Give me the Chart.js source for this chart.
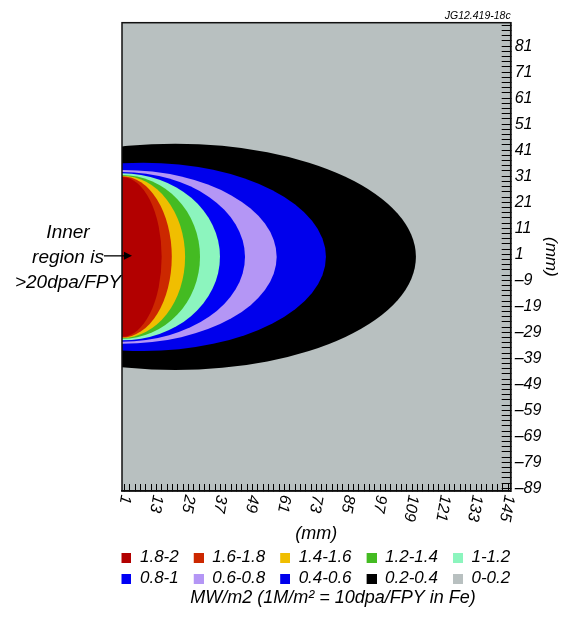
<!DOCTYPE html>
<html>
<head>
<meta charset="utf-8">
<script src="https://cdn.jsdelivr.net/npm/chart.js@4.4.1/dist/chart.umd.min.js"></script>
<style>
  html, body { margin: 0; padding: 0; background: #ffffff; }
  #wrap { width: 565px; height: 617px; position: relative; }
</style>
</head>
<body>
<div id="wrap"><canvas id="c" width="565" height="617"></canvas></div>
<script>
// ---------- data ----------
const BANDS = ['1.8-2', '1.6-1.8', '1.4-1.6', '1.2-1.4', '1-1.2', '0.8-1', '0.6-0.8', '0.4-0.6', '0.2-0.4', '0-0.2'];
const COLORS = ['#b20000', '#cc2800', '#f0be00', '#44bb22', '#8cf5be', '#0000f5', '#b496f5', '#0000ec', '#000000', '#b8c0c0'];
// outer boundary of each band (mm): centre x, right-most x, half height
const CONTOUR_CX     = [0, 0, 0, 0, 0, 0, 0, 8, 20];
const CONTOUR_XMAX   = [14.9, 18.7, 23.7, 29.3, 36.8, 46.2, 58.1, 76.6, 110.4];
const CONTOUR_HALF_H = [30.7, 31.0, 31.2, 31.5, 32.1, 32.6, 33.4, 36.2, 43.5];
const CENTER_Y = 0;
const X_RANGE = [0, 146];
const Y_RANGE = [-90, 90];
const X_TICK_LABELS = [1, 13, 25, 37, 49, 61, 73, 85, 97, 109, 121, 133, 145];
const Y_TICK_LABELS = [81, 71, 61, 51, 41, 31, 21, 11, 1, -9, -19, -29, -39, -49, -59, -69, -79, -89];
const MINOR_STEP = 2;
const ANNOT_LINES = ['Inner', 'region is', '>20dpa/FPY'];
const TOP_NOTE = 'JG12.419-18c';
const BOTTOM_NOTE = 'MW/m2 (1M/m\u00B2 = 10dpa/FPY in Fe)';

const FONT = "'Liberation Sans', Arial, sans-serif";
Chart.defaults.font.family = FONT;
Chart.defaults.font.style = 'italic';
Chart.defaults.color = '#000';

const SWATCH_W = 21;       // legend symbol slot (square sits at its right end)
const LEGEND_WRAP = 450;   // width used for wrapping legend rows (5 per row)

function minorTicks(lo, hi) {
  const out = [];
  for (let v = lo + 1; v <= hi; v += MINOR_STEP) out.push({ value: v });
  return out;
}
const fmt = v => (v < 0 ? '\u2013' + Math.abs(v) : String(v));

function swatch(color) {
  const c = document.createElement('canvas');
  c.width = SWATCH_W;
  c.height = 10;
  const g = c.getContext('2d');
  g.fillStyle = color;
  g.fillRect(SWATCH_W - 10, 0, 10, 10);
  return c;
}
const SWATCHES = COLORS.map(swatch);

const contourPlugin = {
  id: 'contours',
  beforeUpdate(chart) {
    const lg = chart.legend;
    if (lg && !lg.__wrapPatched) {
      const orig = lg.update;
      lg.update = function (maxWidth, maxHeight, margins) {
        return orig.call(this, Math.max(maxWidth, LEGEND_WRAP), maxHeight, margins);
      };
      lg.__wrapPatched = true;
    }
  },
  afterUpdate(chart) {
    const lg = chart.legend;
    if (lg) {
      lg.left -= 36;
      lg.right += 24;
      lg.width = lg.right - lg.left;
    }
    const tb = chart.titleBlock;
    if (tb) {
      tb.left -= 21;
      tb.width = tb.right - tb.left;
    }
  },
  beforeDraw(chart) {
    const { ctx, chartArea: a, scales: { y } } = chart;
    ctx.save();
    ctx.font = 'italic 19px ' + FONT;
    ctx.fillStyle = '#000';
    ctx.textAlign = 'center';
    ctx.textBaseline = 'middle';
    const yc = y.getPixelForValue(CENTER_Y);
    ANNOT_LINES.forEach((t, i) => ctx.fillText(t, 68, yc - 24 + i * 25));
    ctx.fillStyle = COLORS[COLORS.length - 1];
    ctx.fillRect(a.left, a.top, a.right - a.left, a.bottom - a.top);
    ctx.restore();
  },
  beforeDatasetsDraw(chart) {
    const { ctx, chartArea: a, scales: { x, y } } = chart;
    ctx.save();
    ctx.beginPath();
    ctx.rect(a.left, a.top, a.right - a.left, a.bottom - a.top);
    ctx.clip();
    for (let i = CONTOUR_XMAX.length - 1; i >= 0; i--) {
      const cx = x.getPixelForValue(CONTOUR_CX[i]);
      const rx = x.getPixelForValue(CONTOUR_XMAX[i]) - cx;
      const cy = y.getPixelForValue(CENTER_Y);
      const ry = cy - y.getPixelForValue(CENTER_Y + CONTOUR_HALF_H[i]);
      ctx.beginPath();
      ctx.ellipse(cx, cy, rx, ry, 0, 0, Math.PI * 2);
      ctx.fillStyle = COLORS[i];
      ctx.fill();
    }
    ctx.restore();
  },
  afterDatasetsDraw(chart) {
    const { ctx, chartArea: a, scales: { y } } = chart;
    ctx.save();
    ctx.strokeStyle = '#111';
    ctx.lineWidth = 1.5;
    ctx.strokeRect(a.left, a.top, a.right - a.left, a.bottom - a.top);
    const yc = y.getPixelForValue(CENTER_Y) - 1;
    ctx.strokeStyle = '#000';
    ctx.lineWidth = 1.3;
    ctx.beginPath();
    ctx.moveTo(104, yc);
    ctx.lineTo(125, yc);
    ctx.stroke();
    ctx.fillStyle = '#000';
    ctx.beginPath();
    ctx.moveTo(132, yc);
    ctx.lineTo(124, yc - 4);
    ctx.lineTo(124, yc + 4);
    ctx.closePath();
    ctx.fill();
    ctx.restore();
  },
  afterDraw(chart) {
    const { ctx, chartArea: a, scales: { x } } = chart;
    ctx.save();
    ctx.font = 'italic 16px ' + FONT;
    ctx.fillStyle = '#000';
    ctx.textAlign = 'left';
    ctx.textBaseline = 'middle';
    X_TICK_LABELS.forEach(v => {
      const px = x.getPixelForValue(v);
      ctx.save();
      ctx.translate(px + 1, a.bottom + 4);
      ctx.rotate(100 * Math.PI / 180);
      ctx.fillText(String(v), 0, 0);
      ctx.restore();
    });
    ctx.restore();
  }
};

new Chart(document.getElementById('c'), {
  type: 'scatter',
  data: {
    datasets: BANDS.map((label, i) => ({
      label,
      data: [],
      backgroundColor: COLORS[i],
      borderColor: COLORS[i],
      borderWidth: 0
    }))
  },
  options: {
    responsive: false,
    animation: false,
    devicePixelRatio: 1,
    layout: { padding: { left: 122, right: 0, top: 0, bottom: 8.2 } },
    scales: {
      x: {
        type: 'linear',
        position: 'bottom',
        min: X_RANGE[0],
        max: X_RANGE[1],
        afterBuildTicks: s => { s.ticks = minorTicks(X_RANGE[0], X_RANGE[1]); },
        afterFit: s => { s.height = 54.2; },
        ticks: { display: false },
        grid: { display: true, drawOnChartArea: false, drawTicks: true, tickLength: -7, color: '#000', lineWidth: 1 },
        border: { display: true, color: '#000', width: 1.5 },
        title: { display: true, text: '(mm)', color: '#000', font: { size: 18, style: 'italic' }, padding: { top: 0, bottom: 0.4 } }
      },
      y: {
        type: 'linear',
        position: 'right',
        min: Y_RANGE[0],
        max: Y_RANGE[1],
        afterBuildTicks: s => { s.ticks = minorTicks(Y_RANGE[0], Y_RANGE[1]); },
        afterFit: s => { s.width = 54.3; },
        ticks: {
          autoSkip: false,
          padding: 13,
          color: '#000',
          font: { size: 16, style: 'italic' },
          callback: v => (Y_TICK_LABELS.includes(v) ? fmt(v) : '')
        },
        grid: { display: true, drawOnChartArea: false, drawTicks: true, tickLength: -9, color: '#000', lineWidth: 1 },
        border: { display: true, color: '#000', width: 1.5 },
        title: { display: true, text: '(mm)', color: '#000', font: { size: 17, style: 'italic' }, padding: { top: 3.8, bottom: 0 } }
      }
    },
    plugins: {
      legend: {
        display: true,
        position: 'bottom',
        fullSize: false,
        align: 'center',
        labels: {
          usePointStyle: true,
          pointStyleWidth: SWATCH_W,
          boxHeight: 10,
          padding: 4,
          color: '#000',
          font: { size: 17, style: 'italic' },
          generateLabels: chart => chart.data.datasets.map((ds, i) => ({
            text: ds.label,
            fillStyle: ds.backgroundColor,
            strokeStyle: ds.borderColor,
            lineWidth: 0,
            pointStyle: SWATCHES[i],
            hidden: false,
            datasetIndex: i,
            fontColor: '#000'
          }))
        }
      },
      title: {
        display: true,
        position: 'bottom',
        fullSize: true,
        text: BOTTOM_NOTE,
        color: '#000',
        font: { size: 18, style: 'italic', weight: 'normal' },
        padding: { top: -10, bottom: 0 }
      },
      subtitle: {
        display: true,
        position: 'top',
        align: 'end',
        fullSize: false,
        text: TOP_NOTE,
        color: '#000',
        font: { size: 10.5, style: 'italic', weight: 'normal' },
        padding: { top: 9.7, bottom: 0.4 }
      },
      tooltip: { enabled: false }
    }
  },
  plugins: [contourPlugin]
});
</script>
</body>
</html>
